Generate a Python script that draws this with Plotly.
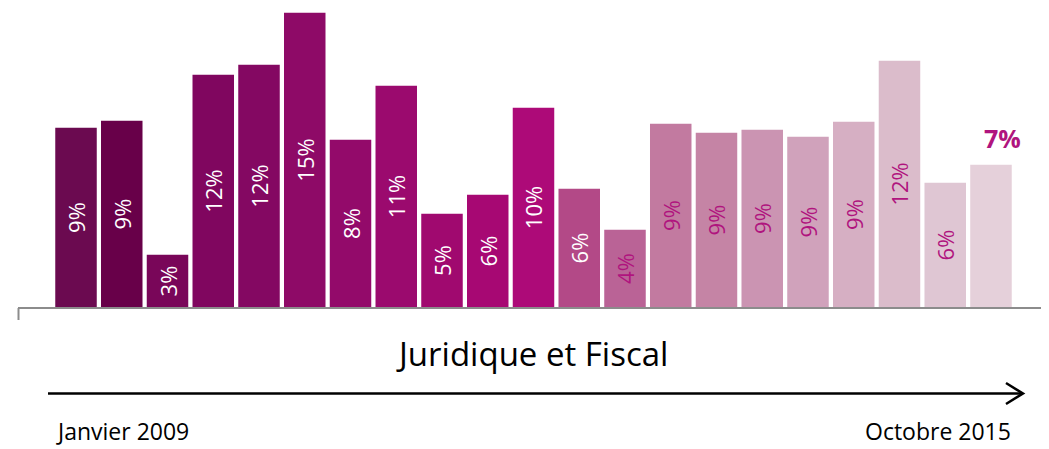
import plotly.graph_objects as go

# Data
positions = list(range(21))
values = [9.05, 9.4, 2.7, 11.7, 12.2, 14.8, 8.45, 11.15, 4.75, 5.7, 10.05,
          6.0, 3.95, 9.25, 8.8, 8.95, 8.6, 9.35, 12.4, 6.3, 7.2]
labels = ["9%", "9%", "3%", "12%", "12%", "15%", "8%", "11%", "5%", "6%", "10%",
          "6%", "4%", "9%", "9%", "9%", "9%", "9%", "12%", "6%", ""]
last_label = "7%"
colors = ["#6B0A50", "#680049", "#790659", "#80065F", "#840862", "#8E0A67",
          "#930A6A", "#9B0A6E", "#A0096F", "#A70873", "#AD0A78", "#B34987",
          "#BA6396", "#C27AA0", "#C584A5", "#CB94B2", "#D0A2BB", "#D6AFC3",
          "#DBBCCB", "#DFC6D3", "#E5D0DA"]
text_colors = ["white"] * 12 + ["#B0147E"] * 9
title_text = "Juridique et Fiscal"
start_label = "Janvier 2009"
end_label = "Octobre 2015"

FONT = "Open Sans"

# page has an 8px body margin; figure sized to fit the window
OFF = 8
W, H = 1049 - OFF, 449 - OFF
L, R, T = 10, 13, 0
B = H - 300
pw = W - L - R
ph = H - T - B


def px(xs):
    """screen x (px) -> paper x"""
    return (xs - OFF - L) / pw


def py(ys):
    """screen y (px) -> paper y"""
    return (T + ph - (ys - OFF)) / ph


fig = go.Figure()
fig.add_trace(go.Bar(
    x=positions, y=values,
    marker=dict(color=colors, line=dict(color="white", width=1.5)),
    text=labels, textposition="inside", insidetextanchor="middle",
    textangle=-90,
    textfont=dict(color=text_colors, size=22, family=FONT),
    hoverinfo="skip",
))

fig.add_annotation(x=positions[-1], y=values[-1], text="<b>%s</b>" % last_label,
                   showarrow=False, xanchor="center", yanchor="middle",
                   xshift=12, yshift=26,
                   font=dict(size=25, color="#B0147E", family=FONT))

line_col = "#8C8C8C"
shapes = [
    dict(type="line", xref="paper", yref="paper", x0=px(18), x1=px(1048), y0=py(308), y1=py(308),
         line=dict(color=line_col, width=2)),
    dict(type="line", xref="paper", yref="paper", x0=px(18.5), x1=px(18.5), y0=py(308), y1=py(320),
         line=dict(color=line_col, width=2)),
    dict(type="line", xref="paper", yref="paper", x0=px(1047.5), x1=px(1047.5), y0=py(308), y1=py(320),
         line=dict(color=line_col, width=2)),
    dict(type="line", xref="paper", yref="paper", x0=px(48), x1=px(1022), y0=py(393.5), y1=py(393.5),
         line=dict(color="black", width=2.5)),
    dict(type="path", xref="paper", yref="paper",
         path="M %f,%f L %f,%f L %f,%f" % (px(1006), py(383), px(1023), py(393.5), px(1006), py(404)),
         line=dict(color="black", width=2.5)),
]
fig.update_layout(shapes=shapes)

fig.add_annotation(xref="paper", yref="paper", x=px(532), y=py(353), text=title_text,
                   showarrow=False, xanchor="center", yanchor="middle",
                   font=dict(size=33, color="black", family=FONT))
fig.add_annotation(xref="paper", yref="paper", x=px(54), y=py(449), text=start_label,
                   showarrow=False, xanchor="left", yanchor="bottom",
                   font=dict(size=23, color="black", family=FONT))
fig.add_annotation(xref="paper", yref="paper", x=px(1013), y=py(449), text=end_label,
                   showarrow=False, xanchor="right", yanchor="bottom",
                   font=dict(size=23, color="black", family=FONT))

fig.update_layout(
    width=W, height=H,
    margin=dict(l=L, r=R, t=T, b=B, autoexpand=False),
    paper_bgcolor="white", plot_bgcolor="white",
    bargap=0.06, showlegend=False,
    xaxis=dict(range=[-1.268, 20.984], visible=False, fixedrange=True),
    yaxis=dict(range=[0, ph / 20.0], visible=False, fixedrange=True),
)

fig.write_html("out.html", config={"displayModeBar": False})
